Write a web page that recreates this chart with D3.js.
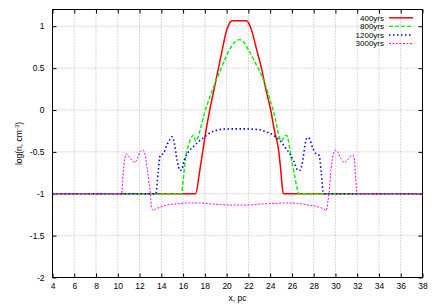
<!DOCTYPE html>
<html><head><meta charset="utf-8">
<script src="https://cdn.jsdelivr.net/npm/d3@7"></script>
<style>
html,body{margin:0;padding:0;background:#fff;}
svg{display:block;font-family:"Liberation Sans",Arial,sans-serif;}
</style></head>
<body><svg id="c" width="436" height="305"></svg>
<script>
const xTicks = [4,6,8,10,12,14,16,18,20,22,24,26,28,30,32,34,36,38];
const yTicks = [-2,-1.5,-1,-0.5,0,0.5,1];
const seriesNames = ["400yrs","800yrs","1200yrs","3000yrs"];

const red400 = [[4,-1],[17.15,-1],[17.5,-0.75],[17.8,-0.5],[18.1,-0.25],[18.45,0],[18.85,0.25],[19.25,0.5],[19.65,0.75],[19.95,0.93],[20.2,1.02],[20.5,1.065],[21.8,1.065],[22.1,1.02],[22.35,0.93],[22.7,0.75],[23.2,0.5],[23.6,0.25],[24.05,0],[24.4,-0.25],[24.8,-0.5],[25.0,-0.75],[25.2,-1],[38,-1]];

const green800 = [[4,-1],[15.85,-1],[16.0,-0.85],[16.2,-0.6],[16.5,-0.42],[16.8,-0.32],[16.95,-0.3],[17.15,-0.37],[17.35,-0.33],[17.6,-0.22],[18.0,-0.02],[18.5,0.17],[19,0.34],[19.5,0.5],[20,0.65],[20.5,0.77],[21.0,0.835],[21.2,0.84],[21.5,0.82],[22,0.72],[22.5,0.6],[23,0.47],[23.5,0.32],[24,0.12],[24.5,-0.12],[24.85,-0.33],[25.05,-0.37],[25.3,-0.32],[25.5,-0.3],[25.7,-0.38],[25.9,-0.55],[26.2,-0.75],[26.5,-0.95],[26.6,-1],[38,-1]];

const blue1200 = [[4,-1],[13.5,-1],[13.7,-0.75],[13.9,-0.54],[14.2,-0.52],[14.5,-0.42],[14.8,-0.35],[15.0,-0.32],[15.2,-0.4],[15.45,-0.6],[15.7,-0.72],[15.85,-0.72],[16.1,-0.6],[16.5,-0.5],[17,-0.43],[17.5,-0.37],[18,-0.32],[18.5,-0.27],[19,-0.245],[19.6,-0.23],[20.5,-0.225],[21.5,-0.225],[22.5,-0.23],[23.2,-0.24],[23.6,-0.26],[24,-0.28],[24.5,-0.32],[25,-0.38],[25.4,-0.45],[25.8,-0.52],[26.2,-0.62],[26.55,-0.72],[26.75,-0.72],[27,-0.6],[27.2,-0.42],[27.4,-0.33],[27.6,-0.34],[27.9,-0.45],[28.2,-0.52],[28.5,-0.54],[28.7,-0.75],[28.9,-1],[38,-1]];

const magenta3000 = [[4,-1],[10.35,-1],[10.5,-0.75],[10.65,-0.58],[10.8,-0.525],[11.0,-0.55],[11.3,-0.6],[11.55,-0.625],[11.8,-0.58],[12.05,-0.5],[12.3,-0.48],[12.5,-0.53],[12.7,-0.7],[12.9,-0.9],[13.0,-1.0],[13.1,-1.15],[13.25,-1.2],[13.5,-1.18],[13.9,-1.16],[14.5,-1.135],[15.5,-1.12],[16.5,-1.11],[17.5,-1.11],[18.5,-1.12],[19.5,-1.13],[20.5,-1.135],[21.5,-1.135],[22.5,-1.13],[23.5,-1.12],[24.5,-1.115],[25.5,-1.11],[26.5,-1.115],[27.3,-1.13],[28,-1.145],[28.5,-1.16],[28.9,-1.18],[29.15,-1.2],[29.3,-1.1],[29.4,-1.0],[29.6,-0.7],[29.8,-0.53],[30.0,-0.48],[30.2,-0.5],[30.5,-0.58],[30.8,-0.625],[31.1,-0.6],[31.4,-0.55],[31.6,-0.54],[31.75,-0.6],[31.85,-0.8],[32.0,-1],[38,-1]];

const seriesData = [red400, green800, blue1200, magenta3000];
const styles = [
  {color:"#ff0000", width:1.5, dash:null},
  {color:"#00ee00", width:1.4, dash:"4,2"},
  {color:"#0000ff", width:1.6, dash:"1.5,2.5"},
  {color:"#ff00ff", width:1, dash:"2,1.5"}
];

const svg = d3.select("#c");
const L=52.5, R=422.5, T=9.5, B=277.5;
const x = d3.scaleLinear().domain([4,38]).range([L,R]);
const y = d3.scaleLinear().domain([-2,1.2]).range([B,T]);

// grid
const g = svg.append("g");
g.selectAll(".gx").data(xTicks.slice(1,-1)).enter().append("line")
  .attr("x1",d=>x(d)).attr("x2",d=>x(d)).attr("y1",T).attr("y2",B)
  .attr("stroke","#b0b0b0").attr("stroke-width",1).attr("stroke-dasharray","1,2");
g.selectAll(".gy").data(yTicks.slice(1)).enter().append("line")
  .attr("y1",d=>y(d)).attr("y2",d=>y(d)).attr("x1",L).attr("x2",R)
  .attr("stroke","#b0b0b0").attr("stroke-width",1).attr("stroke-dasharray","1,2");

// axes with inward ticks
const fs = "8.5px";
const ax = svg.append("g").attr("transform",`translate(0,${B})`)
  .call(d3.axisBottom(x).tickValues(xTicks).tickSize(-4).tickPadding(5).tickFormat(d3.format("d")));
const axT = svg.append("g").attr("transform",`translate(0,${T})`)
  .call(d3.axisTop(x).tickValues(xTicks).tickSize(-4).tickFormat(""));
const ay = svg.append("g").attr("transform",`translate(${L},0)`)
  .call(d3.axisLeft(y).tickValues(yTicks).tickSize(-4).tickPadding(8).tickFormat(d=>String(d)));
const ayR = svg.append("g").attr("transform",`translate(${R},0)`)
  .call(d3.axisRight(y).tickValues(yTicks).tickSize(-4).tickFormat(""));
[ax,axT,ay,ayR].forEach(a=>{
  a.select(".domain").remove();
  a.selectAll(".tick line").attr("stroke","#000");
  a.selectAll("text").attr("font-size",fs).attr("fill","#000").attr("font-family","Liberation Sans, Arial, sans-serif");
});

// clip
svg.append("clipPath").attr("id","clip").append("rect")
  .attr("x",L).attr("y",T).attr("width",R-L).attr("height",B-T);

const line = d3.line().x(d=>x(d[0])).y(d=>y(d[1])).curve(d3.curveMonotoneX);
const pg = svg.append("g").attr("clip-path","url(#clip)");
seriesData.forEach((s,i)=>{
  pg.append("path").datum(s).attr("d",line).attr("fill","none")
    .attr("stroke",styles[i].color).attr("stroke-width",styles[i].width)
    .attr("stroke-dasharray",styles[i].dash);
});

// border
svg.append("rect").attr("x",L).attr("y",T).attr("width",R-L).attr("height",B-T)
  .attr("fill","none").attr("stroke","#000").attr("stroke-width",1);

// legend
const lg = svg.append("g");
seriesNames.forEach((n,i)=>{
  const yy = 17.8 + i*8.6;
  lg.append("text").attr("x",384).attr("y",yy).attr("dy","0.35em")
    .attr("text-anchor","end").attr("font-size","8px").attr("fill","#000").text(n);
  lg.append("line").attr("x1",389).attr("x2",413).attr("y1",yy).attr("y2",yy)
    .attr("stroke",styles[i].color).attr("stroke-width",styles[i].width)
    .attr("stroke-dasharray",styles[i].dash);
});

// axis labels
svg.append("text").attr("x",(L+R)/2).attr("y",301).attr("text-anchor","middle")
  .attr("font-size","8.5px").attr("fill","#000").text("x, pc");
const yl = svg.append("text").attr("transform",`translate(22,${(T+B)/2}) rotate(-90)`)
  .attr("text-anchor","middle").attr("font-size","8.5px").attr("fill","#000");
yl.append("tspan").text("log(n, cm");
yl.append("tspan").attr("dy","-3").attr("font-size","6px").text("-3");
yl.append("tspan").attr("dy","3").text(")");
</script></body></html>
